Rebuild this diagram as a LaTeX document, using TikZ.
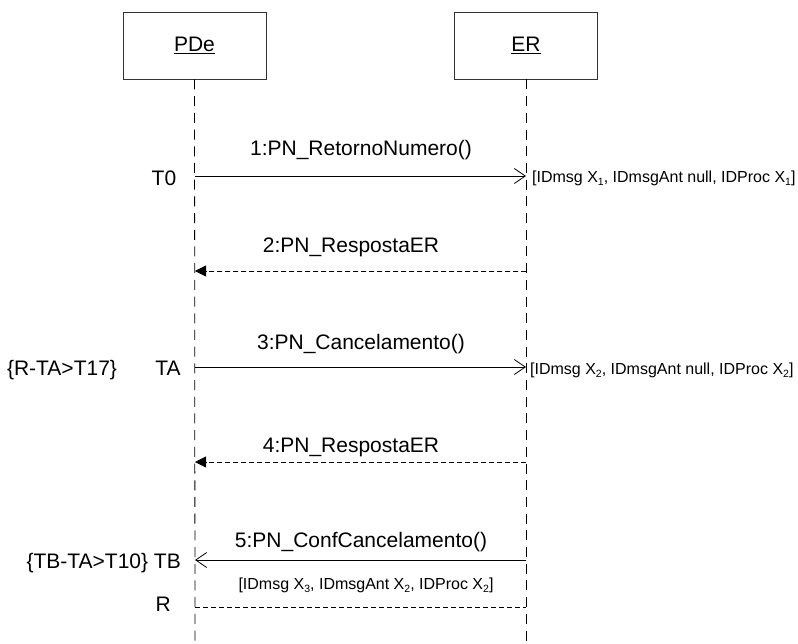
\documentclass[tikz,border=0pt]{standalone}
\usepackage{fontspec}
\setmainfont{Liberation Sans}
\usetikzlibrary{arrows.meta}
\newcommand{\lowsub}[1]{\raisebox{-3.5pt}{\fontsize{10.5}{12}\selectfont #1}}
\tikzset{
  objbox/.style={draw=black!80, line width=0.9pt, minimum width=143pt, minimum height=67pt, inner sep=0pt, font=\fontsize{21}{25}\selectfont},
  lifeline/.style={draw=black, line width=0.8pt, dash pattern=on 10pt off 6.7pt},
  callmsg/.style={draw=black, line width=0.8pt, -{Straight Barb[length=11pt,width=15pt,line width=0.8pt]}},
  retmsg/.style={draw=black, line width=0.8pt, dash pattern=on 5pt off 3pt, -{Triangle[length=11pt,width=11pt]}},
  plaindash/.style={draw=black, line width=0.8pt, dash pattern=on 5pt off 3pt},
  lbl/.style={inner sep=0pt, font=\fontsize{21}{25}\selectfont},
  small/.style={inner sep=0pt, font=\fontsize{16}{19}\selectfont}
}
\begin{document}
\begin{tikzpicture}[x=1pt,y=-1pt]
\useasboundingbox (0,0) rectangle (798,643);
% objects
\node[objbox] (pde) at (194.5,45.5) {\underline{PDe}};
\node[objbox] (er) at (526,45.5) {\underline{ER}};
% lifeline ends
\coordinate (pend) at (195,643);
\coordinate (eend) at (526,643);
\draw[lifeline] (pde.south) -- (pend);
\draw[lifeline] (er.south) -- (eend);
% message points
\coordinate (p1) at (195,176); \coordinate (e1) at (526,176);
\coordinate (p2) at (195,271); \coordinate (e2) at (526,271);
\coordinate (p3) at (195,367); \coordinate (e3) at (526,367);
\coordinate (p4) at (195,462); \coordinate (e4) at (526,462);
\coordinate (p5) at (195,560); \coordinate (e5) at (526,560);
\coordinate (p6) at (195,607); \coordinate (e6) at (526,607);
% messages
\draw[callmsg] (p1) -- (e1);
\draw[retmsg] (e2) -- (p2);
\draw[callmsg] (p3) -- (e3);
\draw[retmsg] (e4) -- (p4);
\draw[callmsg] (e5) -- (p5);
\draw[plaindash] (p6) -- (e6);
% labels
\node[lbl, anchor=base] (m1) at (361,155) {1:PN\_RetornoNumero()};
\node[lbl, anchor=base] (m2) at (351,252) {2:PN\_RespostaER};
\node[lbl, anchor=base] (m3) at (361,349) {3:PN\_Cancelamento()};
\node[lbl, anchor=base] (m4) at (351,452) {4:PN\_RespostaER};
\node[lbl, anchor=base] (m5) at (361,547) {5:PN\_ConfCancelamento()};
% time labels
\node[lbl, anchor=base] (t0) at (164,185) {T0};
\node[lbl, anchor=base] (ta) at (168,375) {TA};
\node[lbl, anchor=base] (rta) at (62,375) {\{R-TA>T17\}};
\node[lbl, anchor=base east] (tb) at (181,568) {\{TB-TA>T10\} TB};
\node[lbl, anchor=base east] (r) at (171,611) {R};
% bracket annotations
\node[small, anchor=base west] (b1) at (532,182) {[IDmsg X\lowsub{1}, IDmsgAnt null, IDProc X\lowsub{1}]};
\node[small, anchor=base west] (b2) at (530,374) {[IDmsg X\lowsub{2}, IDmsgAnt null, IDProc X\lowsub{2}]};
\node[small, anchor=base] (b3) at (366,589) {[IDmsg X\lowsub{3}, IDmsgAnt X\lowsub{2}, IDProc X\lowsub{2}]};
\end{tikzpicture}
\end{document}
